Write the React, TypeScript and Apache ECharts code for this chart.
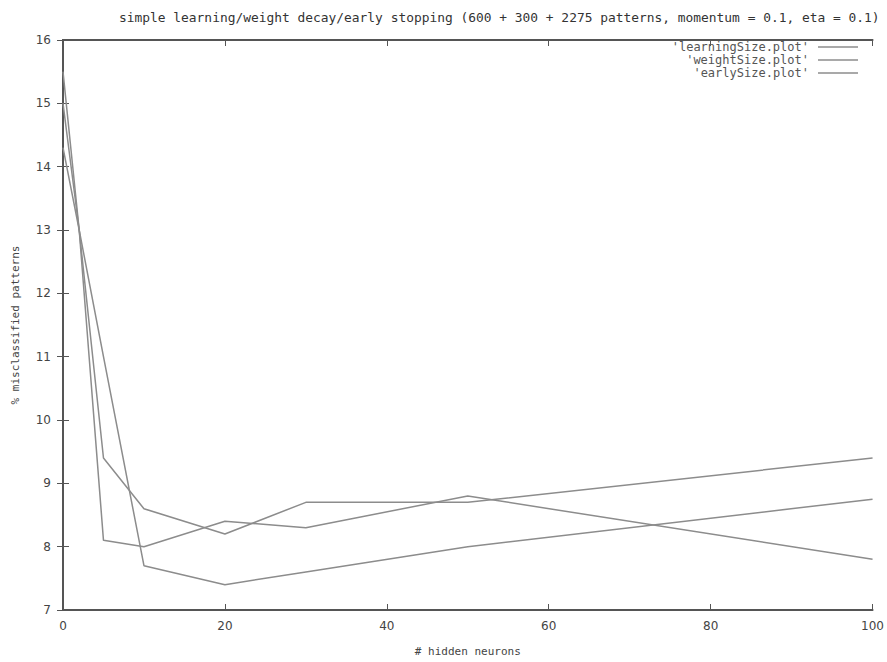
import React, { useEffect, useRef } from "react";
import * as echarts from "echarts";

const hiddenNeurons = [0, 2, 5, 10, 20, 30, 50, 100];
const learningSize = [15.5, 13.0, 9.4, 8.6, 8.2, 8.7, 8.7, 9.4];
const weightSize = [15.0, 13.0, 11.0, 7.7, 7.4, 7.6, 8.0, 8.75];
const earlySize = [14.3, 13.0, 8.1, 8.0, 8.4, 8.3, 8.8, 7.8];
const seriesNames = ["'learningSize.plot'", "'weightSize.plot'", "'earlySize.plot'"];
const seriesValues = [learningSize, weightSize, earlySize];

const titleText =
  "simple learning/weight decay/early stopping (600 + 300 + 2275 patterns, momentum = 0.1, eta = 0.1)";

export default function App() {
  const ref = useRef<HTMLDivElement>(null);
  useEffect(() => {
    if (!ref.current) return;
    const chart = echarts.init(ref.current, undefined, { renderer: "svg" });
    const axisColor = "#555";
    const lineColor = "#8c8c8c";
    const mono = "DejaVu Sans Mono";
    chart.setOption({
      animation: false,
      backgroundColor: "#fff",
      title: {
        text: titleText,
        left: 114,
        top: 6,
        textStyle: { fontFamily: mono, fontSize: 12.9, fontWeight: "normal", color: "#333" },
      },
      legend: seriesNames.map((n, i) => ({
        data: [n],
        right: 29,
        top: 41 + 13 * i,
        align: "right",
        orient: "vertical",
        icon: "rect",
        itemWidth: 40,
        itemHeight: 1.5,
        itemGap: 0,
        padding: 0,
        textStyle: { fontFamily: mono, fontSize: 12, color: "#555", padding: [0, 4, 0, 0] },
      })),
      grid: { left: 63, right: 14, top: 40, bottom: 51, show: false },
      xAxis: [
        {
          type: "value",
          min: 0,
          max: 100,
          interval: 20,
          position: "bottom",
          name: "# hidden neurons",
          nameLocation: "middle",
          nameGap: 36,
          nameTextStyle: { fontFamily: mono, fontSize: 11, color: "#444" },
          axisLine: { show: true, lineStyle: { color: axisColor, width: 2 } },
          axisTick: { show: true, inside: true, length: 6, lineStyle: { color: axisColor } },
          axisLabel: { fontFamily: "DejaVu Sans", fontSize: 12, color: "#444", margin: 10 },
          splitLine: { show: false },
        },
        {
          type: "value",
          min: 0,
          max: 100,
          interval: 20,
          position: "top",
          axisLine: { show: true, lineStyle: { color: axisColor, width: 2 } },
          axisTick: { show: true, inside: true, length: 6, lineStyle: { color: axisColor } },
          axisLabel: { show: false },
          splitLine: { show: false },
        },
      ],
      yAxis: [
        {
          type: "value",
          min: 7,
          max: 16,
          interval: 1,
          position: "left",
          name: "% misclassified patterns",
          nameLocation: "middle",
          nameGap: 42,
          nameRotate: 90,
          nameTextStyle: { fontFamily: mono, fontSize: 11, color: "#444" },
          axisLine: { show: true, lineStyle: { color: axisColor, width: 2 } },
          axisTick: { show: true, inside: true, length: 6, lineStyle: { color: axisColor } },
          axisLabel: { fontFamily: "DejaVu Sans", fontSize: 12, color: "#444", margin: 12 },
          splitLine: { show: false },
        },
        {
          type: "value",
          min: 7,
          max: 16,
          interval: 1,
          position: "right",
          axisLine: { show: true, lineStyle: { color: axisColor, width: 2 } },
          axisTick: { show: true, inside: true, length: 6, lineStyle: { color: axisColor } },
          axisLabel: { show: false },
          splitLine: { show: false },
        },
      ],
      series: seriesNames.map((n, i) => ({
        name: n,
        type: "line",
        xAxisIndex: 0,
        yAxisIndex: 0,
        showSymbol: false,
        symbol: "none",
        data: hiddenNeurons.map((x, j) => [x, seriesValues[i][j]]),
        lineStyle: { color: lineColor, width: 1.5 },
        itemStyle: { color: lineColor },
      })),
    });
    return () => chart.dispose();
  }, []);
  return (
    <div
      ref={ref}
      style={{ position: "fixed", top: 0, left: 0, width: 887, height: 662 }}
    />
  );
}
